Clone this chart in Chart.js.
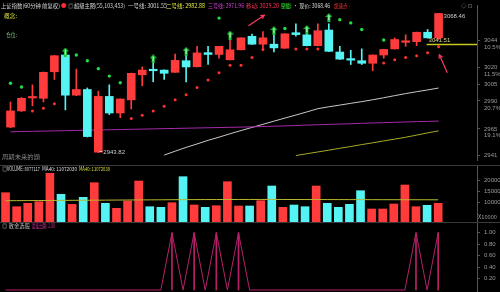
<!DOCTYPE html>
<html><head><meta charset="utf-8">
<script src="https://cdn.jsdelivr.net/npm/chart.js@4.4.1/dist/chart.umd.min.js"></script>
<style>
html,body{margin:0;padding:0;background:#000;}
#wrap{position:relative;width:500px;height:292px;overflow:hidden;background:#000;}
canvas{position:absolute;left:0;}
.t{position:absolute;font-family:"Noto Sans CJK SC","DejaVu Sans",sans-serif;font-size:5.5px;line-height:6px;white-space:nowrap;transform-origin:0 50%;}
.hl{position:absolute;left:0;width:500px;height:1px;background:#3a3a3a;}
</style></head><body>
<div id="wrap">
<canvas id="cMain" width="500" height="165" style="top:0"></canvas>
<canvas id="cVol" width="500" height="57" style="top:165px"></canvas>
<canvas id="cInd" width="500" height="70" style="top:222px"></canvas>
<div class="hl" style="top:165px"></div>
<div class="hl" style="top:222px"></div>

<span class="t" data-w="59" style="left:1px;top:2.5px;color:#d8d8d8">上证指数(60分钟 前复权)</span>
<span class="t" style="left:61px;top:2.5px;color:#ff2a2a">●</span>
<span class="t" style="left:68px;top:2.5px;color:#aaaaaa">◎</span>
<span class="t" data-w="51" style="left:74px;top:2.5px;color:#d8d8d8">超级主图(55,103,453)</span>
<span class="t" data-w="39" style="left:128px;top:2.5px;color:#d8d8d8">一号线: 3001.55</span>
<span class="t" data-w="39" style="left:166px;top:2.5px;color:#e6e63c">二号线: 2982.88</span>
<span class="t" data-w="36" style="left:208px;top:2.5px;color:#d23cd2">三号线: 2971.96</span>
<span class="t" data-w="33" style="left:246px;top:2.5px;color:#ff3355">移动: 3029.20</span>
<span class="t" data-w="10" style="left:281px;top:2.5px;color:#33dd33;background:#0b3b0b">空位:</span>
<span class="t" data-w="37" style="left:293px;top:2.5px;color:#d8d8d8">· 现价: 3068.46</span>
<span class="t" data-w="16" style="left:334px;top:2.5px;color:#ff3030">加速点 -</span>
<span class="t" style="left:461px;top:2.5px;color:#888888">◇ ⊡</span>
<span class="t" data-w="13" style="left:4px;top:12.5px;color:#e0e040">概念:</span>
<span class="t" data-w="11" style="left:6px;top:32px;color:#6fb06f">仓位:</span>
<span class="t" data-w="38" style="left:2px;top:153.5px;color:#8a8a8a">周期未来的题</span>

<span class="t" style="left:2px;top:165.5px;color:#bbbbbb">◎</span>
<span class="t" data-w="33" style="left:7px;top:165.5px;color:#dddddd">VOLUME: 8077117</span>
<span class="t" data-w="35" style="left:42px;top:165.5px;color:#dddddd">MA40: 11072030</span>
<span class="t" data-w="31" style="left:79px;top:165.5px;color:#dddd40">MA40: 11072030</span>
<span class="t" data-w="19" style="left:478px;top:214px;color:#999999">X10000</span>

<span class="t" data-w="28" style="left:2px;top:222.7px;color:#bbbbbb">◎ 散金选股</span>
<span class="t" data-w="23" style="left:32px;top:222.7px;color:#d030a0">最佳出路: 1.00</span>
</div>
<script>
// fit overlay texts to their reference widths
document.querySelectorAll('.t[data-w]').forEach(el => {
  const w = +el.dataset.w, a = el.getBoundingClientRect().width;
  if (a > 0) el.style.transform = 'scaleX(' + (w / a).toFixed(3) + ')';
});

// ---------------- data ----------------
const categories = Array.from({length: 43}, (_, i) => 'K' + (i + 1));

const opens  = [2966.6, 2981.1, 2992.7, 2992.4, 3016.2, 3031.2, 2995.2, 3000.3, 2944.1, 2994.1,
                2979.2, 2991.0, 3013.5, 3018.2, 3017.7, 3015.7, 3026.1, 3020.7, 3033.3, 3031.7,
                3026.9, 3035.9, 3048.0, 3040.9, 3040.9, 3037.3, 3051.2, 3049.3, 3039.6, 3053.6,
                3033.9, 3028.0, 3026.1, 3023.8, 3031.2, 3036.7, 3042.6, 3043.2, 3051.6, 3046.6];
const closes = [2981.1, 2992.4, 2993.3, 3015.7, 3030.6, 2995.2, 3000.3, 2958.1, 2994.1, 2979.2,
                2991.8, 3014.8, 3017.7, 3017.1, 3014.8, 3026.4, 3020.5, 3033.1, 3031.7, 3039.0,
                3035.9, 3046.6, 3040.9, 3046.6, 3037.6, 3050.2, 3049.5, 3039.6, 3053.0, 3034.5,
                3027.5, 3026.6, 3023.8, 3031.2, 3036.2, 3045.1, 3043.2, 3051.6, 3046.6, 3068.46];
const highs  = [2989.1, 2993.1, 3004.5, 3016.0, 3030.8, 3031.7, 3018.5, 3001.7, 2998.8, 3004.5,
                2991.9, 3015.0, 3020.5, 3025.5, 3017.9, 3032.0, 3032.5, 3039.0, 3039.0, 3039.1,
                3046.6, 3046.7, 3049.9, 3052.2, 3050.8, 3050.4, 3059.2, 3053.6, 3059.2, 3059.2,
                3039.0, 3035.4, 3036.7, 3031.4, 3036.4, 3046.6, 3049.3, 3051.8, 3054.1, 3068.6];
const lows   = [2966.0, 2980.6, 2985.7, 2989.1, 3009.3, 2982.0, 2994.8, 2957.7, 2943.82, 2977.8,
                2975.0, 2982.8, 3003.6, 3007.2, 3009.3, 3015.6, 3007.2, 3020.6, 3022.7, 3028.3,
                3026.8, 3035.8, 3040.7, 3035.4, 3033.9, 3037.1, 3048.0, 3039.4, 3039.4, 3034.3,
                3027.2, 3022.7, 3022.7, 3017.1, 3028.3, 3036.5, 3039.0, 3039.6, 3046.3, 3045.1];

const line1 = [null,null,null,null,null,null,null,null,null,null,null,null,null,null,
               2941.5, 2945.0, 2948.4, 2951.5, 2954.7, 2957.6, 2960.6, 2963.5, 2966.3, 2969.1,
               2971.9, 2974.7, 2977.4, 2980.2, 2983.1, 2984.8, 2986.3, 2987.9, 2989.4, 2991.1,
               2992.9, 2994.8, 2996.6, 2998.3, 2999.9, 3001.6];
const line2 = [null,null,null,null,null,null,null,null,null,null,null,null,null,null,null,null,
               null,null,null,null,null,null,null,null,null,null,
               2941.1, 2942.7, 2944.3, 2945.9, 2947.6, 2949.2, 2950.9, 2952.5, 2954.2, 2955.8,
               2957.5, 2959.4, 2961.4, 2963.2];
const line3 = [2962.4, 2962.6, 2962.8, 2963.0, 2963.2, 2963.4, 2963.6, 2963.8, 2964.0, 2964.2,
               2964.4, 2964.6, 2964.8, 2965.0, 2965.2, 2965.4, 2965.6, 2965.8, 2966.0, 2966.2,
               2966.4, 2966.6, 2966.8, 2967.1, 2967.4, 2967.7, 2968.0, 2968.4, 2968.7, 2969.0,
               2969.3, 2969.6, 2970.0, 2970.3, 2970.6, 2970.9, 2971.2, 2971.5, 2971.7, 2972.0];

const greenDots = [3005.9, 3002.5, null, null, null, null, 3031.2, 3026.1, 3019.0, 3012.3,
                   3006.4, null, null, null, null, null, null, null, null, 3064.3,
                   null, null, null, null, null, 3055.0, null, null, null, null,
                   3062.8, 3060.0, 3054.1, null, 3044.6, null, null, null, null, null];
const redDots   = [null, null, 2981.1, 2983.4, 2987.6, null, null, null, null, null,
                   null, 2974.4, 2977.3, 2981.1, 2985.3, 2991.0, 2995.5, 3002.2, 3008.7, 3015.2,
                   3022.1, 3022.1, 3028.9, 3036.2, null, null, 3036.7, 3036.7, 3036.7, null,
                   null, null, null, null, 3024.1, 3026.9, 3028.9, 3030.6, 3033.3, 3038.7];
const buyArrows = [null, null, null, null, null, 3033.9, null, null, null, null,
                   null, null, null, 3027.8, null, null, 3034.5, null, null, null,
                   3049.1, null, null, null, 3053.1, null, null, 3054.1, null, 3064.8];

const levelPrice = 3041.51;
const levelStart = 38;

const volumes = [14550, 8180, 9730, 10455, 23360, 13820, 9270, 12450, 19090, 9730,
                 7455, 10770, 19860, 8180, 7910, 10000, 21820, 8955, 7910, 8640,
                 19545, 8500, 8500, 10910, 17590, 7910, 8955, 8180, 17590, 9730,
                 7910, 9270, 15450, 7140, 7140, 9410, 18045, 8180, 8820, 9730];
const volMA = [10900, 10930, 10960, 10990, 11020, 11050, 11080, 11110, 11140, 11170,
               11200, 11230, 11260, 11290, 11320, 11350, 11380, 11400, 11420, 11440,
               11450, 11460, 11470, 11470, 11470, 11460, 11450, 11440, 11430, 11420,
               11410, 11400, 11390, 11380, 11370, 11360, 11350, 11340, 11330, 11320];

const signal = [0,0,0,0,0,0,0,0,0,0, 0,0,0,0,0,1,0,1,0,1, 0,1,0,0,0,0,0,0,0,0, 0,0,0,0,0,0,0,1,0,1];

const mainTickValues = [3044, 3020, 3005, 2990, 2965, 2941];
const mainTickLabels = [['3044','10.5%'], ['3020','11.5%'], ['3005',''], ['2990','20.7%'], ['2965','19.1%'], ['2941','']];
const volTickValues = [20000, 15000, 10000];
const volTickLabels = ['20000', '15000', '10000'];
const indTickValues = [1.0, 0.8, 0.6, 0.4, 0.2];
const indTickLabels = ['1.00', '0.80', '0.60', '0.40', '0.20'];

// ---------------- styles ----------------
const RED = '#ff3b3b', CYAN = '#55f3f3';
const candleColors = closes.map((c, i) => c >= opens[i] ? RED : CYAN);

const arrowImg = document.createElement('canvas');
arrowImg.width = 7; arrowImg.height = 9;
(function(){
  const c = arrowImg.getContext('2d');
  c.fillStyle = '#1fc83c';
  c.beginPath(); c.moveTo(3.5,0); c.lineTo(7,4); c.lineTo(5,4); c.lineTo(5,9); c.lineTo(2,9); c.lineTo(2,4); c.lineTo(0,4); c.closePath(); c.fill();
  c.fillStyle = '#c8ffd0'; c.fillRect(3,2,1,5);
})();

function yAxis(min, max, vals, labs, off) {
  return {
    position: 'right', min: min, max: max,
    afterBuildTicks: s => { s.ticks = vals.map(v => ({value: v})); },
    afterFit: s => { s.width = 23; s.paddingTop = 0; s.paddingBottom = 0; },
    ticks: { callback: (v, i) => labs[i], color: '#9a9a9a', autoSkip: false, maxRotation: 0,
             font: {size: 6, family: 'Liberation Sans', lineHeight: 1.15}, padding: 4, labelOffset: off },
    grid: { drawOnChartArea: false, tickLength: 3, color: '#555' },
    border: { display: true, color: '#555' }
  };
}
const xAxis = { display: false, offset: true };
const baseOpts = {
  animation: false, responsive: false, maintainAspectRatio: false, devicePixelRatio: 1,
  layout: { padding: 0 },
  plugins: { legend: { display: false }, tooltip: { enabled: false } },
  elements: { line: { tension: 0 } }
};

function arrow(ctx, x1, y1, x2, y2) {
  ctx.beginPath(); ctx.moveTo(x1, y1); ctx.lineTo(x2, y2); ctx.stroke();
  const a = Math.atan2(y2 - y1, x2 - x1), L = 4;
  ctx.beginPath();
  ctx.moveTo(x2 - L * Math.cos(a - 0.5), y2 - L * Math.sin(a - 0.5));
  ctx.lineTo(x2, y2);
  ctx.lineTo(x2 - L * Math.cos(a + 0.5), y2 - L * Math.sin(a + 0.5));
  ctx.stroke();
}

const annot = {
  id: 'annot',
  afterDatasetsDraw(chart) {
    const {ctx, chartArea} = chart;
    const x = chart.scales.x, y = chart.scales.y;
    ctx.save();
    const ly = Math.round(y.getPixelForValue(levelPrice)) + 0.5;
    ctx.strokeStyle = '#c8c820'; ctx.lineWidth = 1.5;
    ctx.beginPath(); ctx.moveTo(x.getPixelForValue(levelStart) - 1, ly); ctx.lineTo(chartArea.right, ly); ctx.stroke();
    ctx.font = '6px "Liberation Sans"'; ctx.textBaseline = 'middle';
    ctx.fillStyle = '#e0dc90';
    ctx.fillText(levelPrice.toFixed(2), x.getPixelForValue(levelStart) + 1, ly - 4.5);
    ctx.fillStyle = '#cccccc';
    const last = closes.length - 1;
    ctx.fillText(closes[last].toFixed(2), x.getPixelForValue(last) + 5, y.getPixelForValue(closes[last]) + 3);
    let lo = 0; lows.forEach((v, i) => { if (v < lows[lo]) lo = i; });
    const lx = x.getPixelForValue(lo), lyy = y.getPixelForValue(lows[lo]);
    ctx.strokeStyle = '#cccccc'; ctx.lineWidth = 1;
    ctx.beginPath(); ctx.moveTo(lx + 1, lyy - 1); ctx.lineTo(lx + 4, lyy - 1); ctx.stroke();
    ctx.fillText(lows[lo].toFixed(2), lx + 5, lyy - 0.5);
    ctx.strokeStyle = '#ff3a62'; ctx.lineWidth = 1.2;
    arrow(ctx, x.getPixelForValue(21.68), y.getPixelForValue(3057.5), x.getPixelForValue(23.12), y.getPixelForValue(3066.8));
    arrow(ctx, x.getPixelForValue(39.79), y.getPixelForValue(3015.4), x.getPixelForValue(39.07), y.getPixelForValue(3031.4));
    ctx.restore();
  }
};

// ---------------- main chart ----------------
new Chart(document.getElementById('cMain'), {
  type: 'bar',
  data: {
    labels: categories,
    datasets: [
      { type: 'line', data: line3, borderColor: '#a52aa8', borderWidth: 1, pointRadius: 0, order: 9 },
      { type: 'line', data: line2, borderColor: '#a8a828', borderWidth: 1, pointRadius: 0, order: 9 },
      { type: 'line', data: line1, borderColor: '#c8c8c8', borderWidth: 1, pointRadius: 0, order: 9 },
      { data: lows.map((l, i) => [l, highs[i]]), backgroundColor: candleColors, barThickness: 1, grouped: false, order: 5 },
      { data: opens.map((o, i) => [o, closes[i]]), backgroundColor: candleColors, barThickness: 8, grouped: false, minBarLength: 1.5, order: 4 },
      { type: 'line', data: redDots, showLine: false, pointRadius: 1.5, pointBorderWidth: 0, pointBackgroundColor: '#ff3030', order: 1 },
      { type: 'line', data: greenDots, showLine: false, pointRadius: 1.7, pointBorderWidth: 0, pointBackgroundColor: '#22dd44', order: 1 },
      { type: 'line', data: buyArrows, showLine: false, pointStyle: arrowImg, pointRadius: 4, order: 0 }
    ]
  },
  options: Object.assign({}, baseOpts, {
    scales: { x: xAxis, y: yAxis(2937.1, 3076.04, mainTickValues, mainTickLabels, 3.45) }
  }),
  plugins: [annot]
});

// ---------------- volume chart ----------------
new Chart(document.getElementById('cVol'), {
  type: 'bar',
  data: {
    labels: categories,
    datasets: [
      { type: 'line', data: volMA, borderColor: '#b8b830', borderWidth: 1, pointRadius: 0, order: 0 },
      { data: volumes, backgroundColor: candleColors, barThickness: 8, order: 1 }
    ]
  },
  options: Object.assign({}, baseOpts, {
    scales: { x: xAxis, y: yAxis(1229, 27136, volTickValues, volTickLabels, 0) }
  })
});

// ---------------- indicator chart ----------------
new Chart(document.getElementById('cInd'), {
  type: 'bar',
  data: {
    labels: categories,
    datasets: [
      { type: 'line', data: signal, borderColor: '#b8206a', borderWidth: 1, pointRadius: 0, order: 0 },
      { data: signal.map(v => v === 1 ? 1 : null), backgroundColor: '#b8206a', barThickness: 1, order: 1 }
    ]
  },
  options: Object.assign({}, baseOpts, {
    scales: { x: xAxis, y: yAxis(-0.035, 1.187, indTickValues, indTickLabels, 0) }
  })
});
</script>
</body></html>
